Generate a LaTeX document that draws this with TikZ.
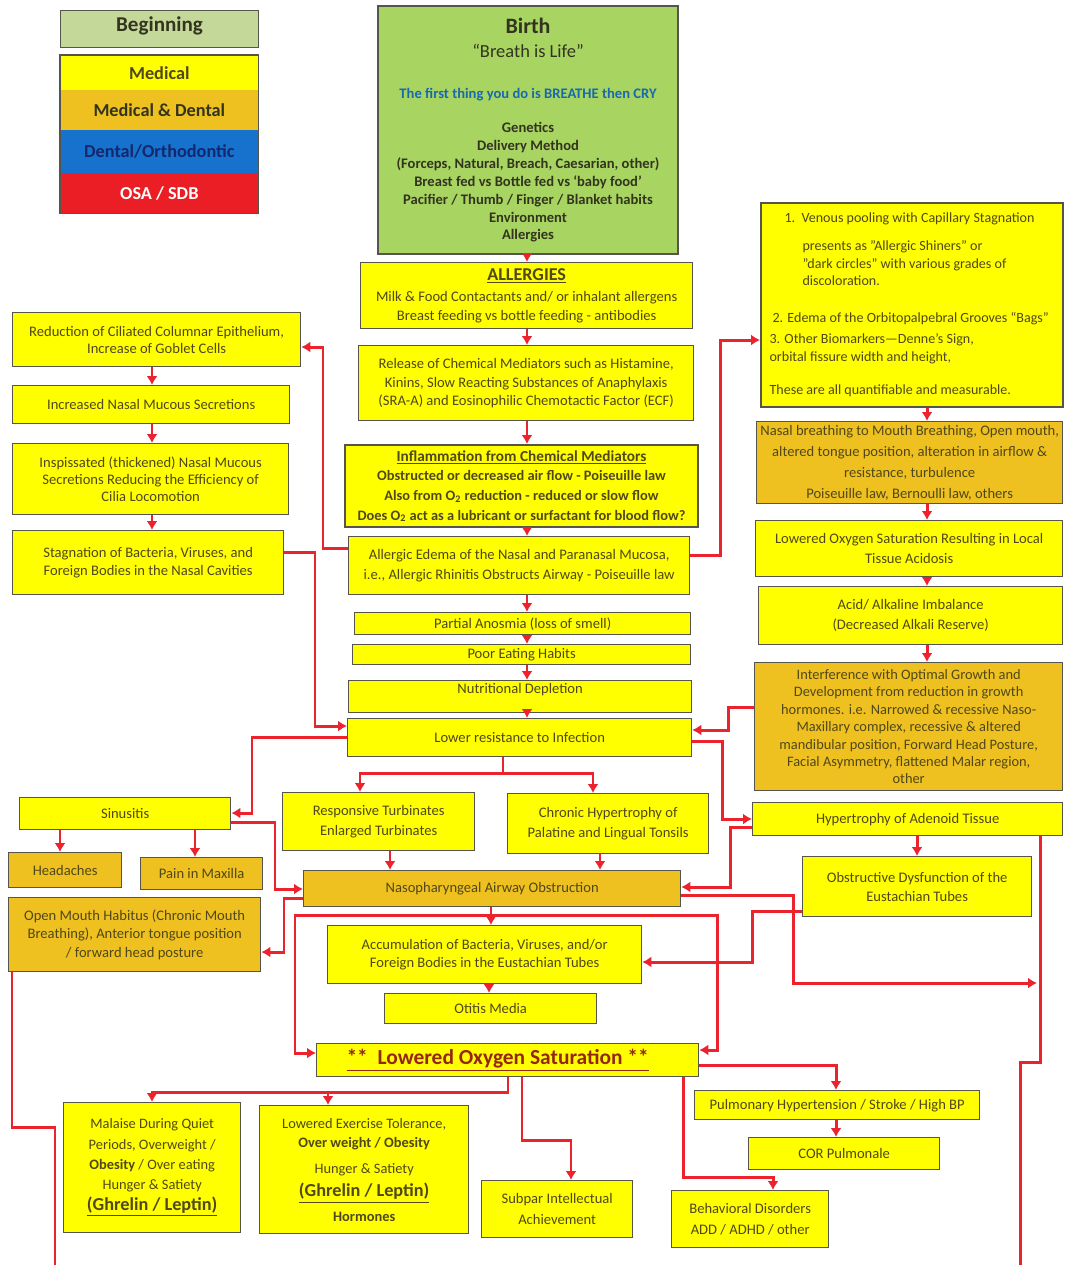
\documentclass[tikz,border=0pt]{standalone}
\usepackage{fontspec}
\setmainfont{Carlito}
\usetikzlibrary{arrows.meta}
\definecolor{MedYellow}{RGB}{255,255,0}
\definecolor{MedGold}{RGB}{238,192,32}
\definecolor{BirthGreen}{RGB}{168,212,98}
\definecolor{BeginGreen}{RGB}{196,216,154}
\definecolor{DentBlue}{RGB}{22,114,204}
\definecolor{DentText}{RGB}{20,40,110}
\definecolor{OsaRed}{RGB}{234,30,36}
\definecolor{LinkRed}{RGB}{236,34,44}
\definecolor{BoxLine}{RGB}{85,85,75}
\definecolor{BoxText}{RGB}{80,72,25}
\definecolor{BirthText}{RGB}{50,52,30}
\definecolor{CryBlue}{RGB}{25,105,175}
\definecolor{SatBrown}{RGB}{150,38,20}

\begin{document}
\begin{tikzpicture}[
x=0.02cm,y=-0.02cm,
medbox/.style={
rectangle,draw=BoxLine,line width=0.8pt,fill=MedYellow,text=BoxText,
align=center,anchor=north west,inner sep=1pt,
font=\fontsize{8.3}{10.5}\selectfont
},
mdbox/.style={medbox,fill=MedGold},
legend/.style={
rectangle,anchor=north west,minimum width=3.96cm,inner sep=0pt,
font=\fontsize{10.4}{12}\selectfont\bfseries
},
arrow/.style={-{Latex[length=1.8mm,width=2.2mm]},line width=1.7pt,draw=LinkRed},
link/.style={line width=1.7pt,draw=LinkRed}
]

\useasboundingbox[fill=white] (0,0) rectangle (1066,1265);

\node[legend,fill=BeginGreen,draw=BoxLine,line width=0.6pt,minimum height=0.74cm,text=BirthText,
font=\fontsize{12}{13}\selectfont\bfseries,text depth=6pt] (beg) at (60,10) {Beginning};
\node[legend,fill=MedYellow,minimum height=0.70cm,text=BoxText] (med) at (60,55) {Medical};
\node[legend,fill=MedGold,minimum height=0.80cm,text=BirthText] (meddent) at (60,90) {Medical \& Dental};
\node[legend,fill=DentBlue,minimum height=0.86cm,text=DentText] (dent) at (60,130) {Dental/Orthodontic};
\node[legend,fill=OsaRed,minimum height=0.80cm,text=white] (osa) at (60,173) {OSA / SDB};
\draw[BoxLine,line width=0.6pt] (med.north west) rectangle (osa.south east);

\node[medbox,fill=BirthGreen,line width=1.2pt,minimum width=6cm,minimum height=4.96cm,
font=\fontsize{8.3}{10.2}\selectfont\bfseries,text=BirthText] (birth) at (377,5)
{{\fontsize{12.5}{14}\selectfont Birth}\\[4pt]
{\fontsize{10.5}{13}\selectfont\mdseries “Breath is Life”}\\[13pt]
\textcolor{CryBlue}{The first thing you do is BREATHE then CRY}\\[9pt]
Genetics\\Delivery Method\\(Forceps, Natural, Breach, Caesarian, other)\\
Breast fed vs Bottle fed vs ‘baby food’\\Pacifier / Thumb / Finger / Blanket habits\\
Environment\\Allergies};

\node[medbox,minimum width=6.64cm,minimum height=1.32cm,font=\fontsize{8.3}{11}\selectfont] (allerg) at (360,262)
{{\fontsize{10.3}{12}\selectfont\bfseries\underline{ALLERGIES}}\\[1pt]
Milk \& Food Contactants and/ or inhalant allergens\\Breast feeding vs bottle feeding - antibodies};

\node[medbox,minimum width=6.70cm,minimum height=1.50cm] (release) at (358,345)
{Release of Chemical Mediators such as Histamine,\\Kinins, Slow Reacting Substances of Anaphylaxis\\(SRA-A) and Eosinophilic Chemotactic Factor (ECF)};

\node[medbox,minimum width=7.06cm,minimum height=1.64cm,line width=1.2pt,font=\fontsize{8.2}{11.2}\selectfont\bfseries] (inflam) at (344,444)
{{\fontsize{8.7}{11}\selectfont\underline{Inflammation from Chemical Mediators}}\\
Obstructed or decreased air flow - Poiseuille law\\
Also from O\textsubscript{2} reduction - reduced or slow flow\\
Does O\textsubscript{2} act as a lubricant or surfactant for blood flow?};

\node[medbox,minimum width=6.82cm,minimum height=1.16cm,font=\fontsize{8.3}{11.3}\selectfont] (edema) at (348,536)
{Allergic Edema of the Nasal and Paranasal Mucosa,\\i.e., Allergic Rhinitis Obstructs Airway - Poiseuille law};

\node[medbox,minimum width=6.72cm,minimum height=0.44cm] (anosmia) at (354,612) {Partial Anosmia (loss of smell)};
\node[medbox,minimum width=6.76cm,minimum height=0.40cm] (poor) at (352,644) {Poor Eating Habits};
\node[medbox,minimum width=6.86cm,minimum height=0.60cm,text height=6pt,text depth=10pt] (nutri) at (348,680) {Nutritional Depletion};
\node[medbox,minimum width=6.88cm,minimum height=0.76cm] (lowres) at (347,718) {Lower resistance to Infection};

\node[medbox,minimum width=5.76cm,minimum height=1.08cm,font=\fontsize{8.3}{9.8}\selectfont] (reduce) at (12,312)
{Reduction of Ciliated Columnar Epithelium,\\Increase of Goblet Cells};
\node[medbox,minimum width=5.54cm,minimum height=0.76cm] (incr) at (12,385) {Increased Nasal Mucous Secretions};
\node[medbox,minimum width=5.52cm,minimum height=1.42cm,font=\fontsize{8.3}{9.9}\selectfont] (insp) at (12,443)
{Inspissated (thickened) Nasal Mucous\\Secretions Reducing the Efficiency of\\Cilia Locomotion};
\node[medbox,minimum width=5.42cm,minimum height=1.28cm,font=\fontsize{8.3}{9.8}\selectfont] (stag) at (12,530)
{Stagnation of Bacteria, Viruses, and\\Foreign Bodies in the Nasal Cavities};

\node[medbox,minimum height=4.08cm,text width=5.7cm,inner xsep=0.17cm,align=flush left,line width=1.2pt,font=\fontsize{8}{10}\selectfont] (venous) at (760,202)
{\hspace*{0.3cm}1.\ \ Venous pooling with Capillary Stagnation\\[6pt]
\hspace*{0.66cm}presents as "Allergic Shiners" or\\
\hspace*{0.66cm}"dark circles" with various grades of\\
\hspace*{0.66cm}discoloration.\\[11pt]
\hspace*{0.06cm}2. Edema of the Orbitopalpebral Grooves “Bags”\\[2pt]
3. Other Biomarkers—Denne’s Sign,\\
orbital fissure width and height,\\[9pt]
These are all quantifiable and measurable.};

\node[mdbox,minimum width=6.12cm,minimum height=1.64cm,font=\fontsize{8.3}{12}\selectfont] (nasal) at (756,421)
{Nasal breathing to Mouth Breathing, Open mouth,\\altered tongue position, alteration in airflow \&\\resistance, turbulence\\Poiseuille law, Bernoulli law, others};
\node[medbox,minimum width=6.14cm,minimum height=1.12cm,font=\fontsize{8.3}{11.3}\selectfont] (lowloc) at (755,520)
{Lowered Oxygen Saturation Resulting in Local\\Tissue Acidosis};
\node[medbox,minimum width=6.08cm,minimum height=1.16cm,font=\fontsize{8.3}{11.3}\selectfont] (acid) at (758,586)
{Acid/ Alkaline Imbalance\\(Decreased Alkali Reserve)};
\node[mdbox,minimum width=6.16cm,minimum height=2.56cm,font=\fontsize{8.2}{9.9}\selectfont] (interf) at (754,662)
{Interference with Optimal Growth and\\Development from reduction in growth\\hormones. i.e. Narrowed \& recessive Naso-\\Maxillary complex, recessive \& altered\\mandibular position, Forward Head Posture,\\Facial Asymmetry, flattened Malar region,\\other};

\node[medbox,minimum width=4.22cm,minimum height=0.64cm] (sinus) at (19,797) {Sinusitis};
\node[mdbox,minimum width=2.26cm,minimum height=0.70cm] (head) at (8,852) {Headaches};
\node[mdbox,minimum width=2.44cm,minimum height=0.64cm] (pain) at (140,857) {Pain in Maxilla};
\node[mdbox,minimum width=5.04cm,minimum height=1.48cm] (openm) at (8,897)
{Open Mouth Habitus (Chronic Mouth\\Breathing), Anterior tongue position\\/ forward head posture};

\node[medbox,minimum width=3.84cm,minimum height=1.16cm,font=\fontsize{8.3}{11.3}\selectfont] (resp) at (282,792)
{Responsive Turbinates\\Enlarged Turbinates};
\node[medbox,minimum width=4.02cm,minimum height=1.20cm,font=\fontsize{8.3}{11}\selectfont] (chron) at (507,793)
{Chronic Hypertrophy of\\Palatine and Lingual Tonsils};
\node[medbox,minimum width=6.20cm,minimum height=0.66cm] (aden) at (752,802) {Hypertrophy of Adenoid Tissue};

\node[mdbox,minimum width=7.54cm,minimum height=0.72cm] (naso) at (303,870) {Nasopharyngeal Airway Obstruction};
\node[medbox,minimum width=4.58cm,minimum height=1.20cm,font=\fontsize{8.3}{11}\selectfont] (obst) at (802,856)
{Obstructive Dysfunction of the\\Eustachian Tubes};
\node[medbox,minimum width=6.28cm,minimum height=1.16cm] (accum) at (327,925)
{Accumulation of Bacteria, Viruses, and/or\\Foreign Bodies in the Eustachian Tubes};
\node[medbox,minimum width=4.24cm,minimum height=0.60cm] (otitis) at (384,993) {Otitis Media};

\node[medbox,minimum width=7.64cm,minimum height=0.66cm,font=\fontsize{12.2}{14}\selectfont\bfseries,text=SatBrown] (lowsat) at (316,1043)
{\underline{**\ \ Lowered Oxygen Saturation **}\hspace*{0.4cm}};

\node[medbox,minimum width=3.54cm,minimum height=2.60cm,font=\fontsize{8.2}{11.6}\selectfont] (malaise) at (63,1102)
{Malaise During Quiet\\Periods, Overweight /\\\textbf{Obesity} / Over eating\\Hunger \& Satiety\\
{\fontsize{10.4}{12}\selectfont\bfseries\underline{(Ghrelin / Leptin)}}};
\node[medbox,minimum width=4.18cm,minimum height=2.56cm,font=\fontsize{8.2}{11}\selectfont] (exerc) at (259,1105)
{Lowered Exercise Tolerance,\\\textbf{Over weight / Obesity}\\[4pt]Hunger \& Satiety\\[2pt]
{\fontsize{10.4}{12}\selectfont\bfseries\underline{(Ghrelin / Leptin)}}\\[3pt]\textbf{Hormones}};
\node[medbox,minimum width=3.02cm,minimum height=1.14cm,font=\fontsize{8.3}{11.8}\selectfont] (subpar) at (481,1180)
{Subpar Intellectual\\Achievement};
\node[medbox,minimum width=3.14cm,minimum height=1.14cm,font=\fontsize{8.3}{11.8}\selectfont] (behav) at (671,1190)
{Behavioral Disorders\\ADD / ADHD / other};
\node[medbox,minimum width=5.70cm,minimum height=0.58cm] (pulm) at (694,1090) {Pulmonary Hypertension / Stroke / High BP};
\node[medbox,minimum width=3.82cm,minimum height=0.64cm] (cor) at (748,1137) {COR Pulmonale};

\coordinate (earend) at (1037,983);
\coordinate (rightend) at (1020,1265);
\coordinate (leftend) at (55,1265);

\draw[arrow] (birth.south -| 527,0) -- (allerg.north -| 527,0);
\draw[arrow] (allerg.south -| 527,0) -- (release.north -| 527,0);
\draw[arrow] (release.south -| 527,0) -- (inflam.north -| 527,0);
\draw[arrow] (inflam.south -| 527,0) -- (edema.north -| 527,0);
\draw[arrow] (edema.south -| 527,0) -- (anosmia.north -| 527,0);
\draw[arrow] (anosmia.south -| 527,0) -- (poor.north -| 527,0);
\draw[arrow] (poor.south -| 527,0) -- (nutri.north -| 527,0);
\draw[arrow] (nutri.south -| 527,0) -- (lowres.north -| 527,0);

\draw[arrow] (edema.west |- 0,548) -| (323,347) -- (reduce.east |- 0,347);
\draw[arrow] (edema.east |- 0,555) -| (720,340) -- (venous.west |- 0,340);

\draw[arrow] (reduce.south -| 152,0) -- (incr.north -| 152,0);
\draw[arrow] (incr.south -| 152,0) -- (insp.north -| 152,0);
\draw[arrow] (insp.south -| 152,0) -- (stag.north -| 152,0);

\draw[arrow] (venous.south -| 927,0) -- (nasal.north -| 927,0);
\draw[arrow] (nasal.south -| 927,0) -- (lowloc.north -| 927,0);
\draw[arrow] (lowloc.south -| 927,0) -- (acid.north -| 927,0);
\draw[arrow] (acid.south -| 927,0) -- (interf.north -| 927,0);

\draw[arrow] (stag.east |- 0,552) -| (315,726) -- (lowres.west |- 0,726);
\draw[arrow] (interf.west |- 0,707) -| (728,730) -- (lowres.east |- 0,730);
\draw[arrow] (lowres.east |- 0,741) -| (722,819) -- (aden.west |- 0,819);
\draw[arrow] (aden.west |- 0,827) -| (730,887) -- (naso.east |- 0,887);

\draw[link] (lowres.south -| 503,0) -- (503,773);
\draw[arrow] (503,773) -| (resp.north -| 360,0);
\draw[arrow] (503,773) -| (chron.north -| 593,0);

\draw[arrow] (lowres.west |- 0,737) -| (252,813) -- (sinus.east |- 0,813);
\draw[arrow] (sinus.east |- 0,822) -| (275,889) -- (naso.west |- 0,889);
\draw[arrow] (naso.west |- 0,898) -| (284,952) -- (openm.east |- 0,952);
\draw[arrow] (sinus.south -| 60,0) -- (head.north -| 60,0);
\draw[arrow] (sinus.south -| 195,0) -- (pain.north -| 195,0);

\draw[arrow] (resp.south -| 390,0) -- (naso.north -| 390,0);
\draw[arrow] (chron.south -| 600,0) -- (naso.north -| 600,0);
\draw[arrow] (aden.south -| 917,0) -- (obst.north -| 917,0);

\draw[arrow] (naso.south -| 491,0) -- (accum.north -| 491,0);
\draw[arrow] (accum.south -| 489,0) -- (otitis.north -| 489,0);
\draw[arrow] (naso.south -| 491,0) -- (491,915) -| (295,1053) -- (lowsat.west |- 0,1053);
\draw[arrow] (491,915) -| (717,1050) -- (lowsat.east |- 0,1050);
\draw[arrow] (naso.east |- 0,895) -| (793,983) -- (earend);
\draw[arrow] (obst.west |- 0,911) -| (752,962) -- (accum.east |- 0,962);

\draw[link] (aden.south -| 1040,0) -- (1040,1062) -| (rightend);
\draw[link] (openm.south -| 12,0) -- (12,1127) -| (leftend);

\draw[arrow] (lowsat.south -| 508,0) -- (508,1092) -| (malaise.north -| 152,0);
\draw[arrow] (328,1092) -- (exerc.north -| 328,0);
\draw[arrow] (lowsat.south -| 522,0) -- (522,1140) -| (subpar.north -| 571,0);
\draw[arrow] (lowsat.south -| 683,0) -- (683,1177) -| (behav.north -| 773,0);
\draw[arrow] (lowsat.east |- 0,1065) -| (pulm.north -| 836,0);
\draw[arrow] (pulm.south -| 836,0) -- (cor.north -| 836,0);

\end{tikzpicture}
\end{document}
